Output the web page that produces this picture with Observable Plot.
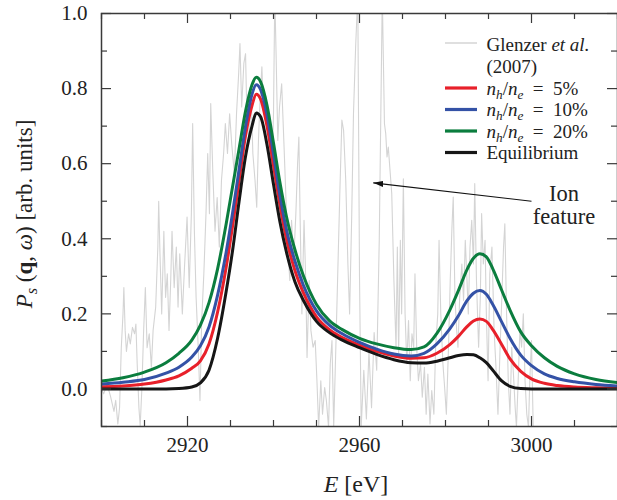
<!DOCTYPE html>
<html><head><meta charset="utf-8">
<style>body{margin:0;background:#fff;} svg{display:block}</style>
<script src="https://cdn.jsdelivr.net/npm/d3@7"></script>
<script src="https://cdn.jsdelivr.net/npm/@observablehq/plot@0.6"></script>
</head><body>
<div id="chart"></div>
<script>
// ---- model curves (energy in eV, signal in arb. units) ----
const energy = [2900, 2905, 2910, 2915, 2918, 2921, 2923, 2925, 2927, 2929, 2930.5, 2932, 2933.5, 2935, 2936, 2937, 2938.5, 2940, 2941.5, 2943, 2945, 2947, 2950, 2953, 2956, 2960, 2964, 2968, 2972, 2975, 2978, 2981, 2983, 2985, 2986.5, 2988, 2989.5, 2991, 2993, 2995, 2997.5, 3000, 3003, 3006, 3010, 3015, 3020];
const equilibrium = [0, 0, 0, 0, 0.001, 0.005, 0.016, 0.05, 0.135, 0.26, 0.37, 0.50, 0.62, 0.70, 0.735, 0.725, 0.65, 0.545, 0.445, 0.365, 0.285, 0.235, 0.18, 0.15, 0.13, 0.11, 0.092, 0.078, 0.07, 0.069, 0.074, 0.083, 0.089, 0.092, 0.091, 0.083, 0.07, 0.05, 0.022, 0.007, 0.001, 0, 0, 0, 0, 0, 0];
const frac5 = [0.006, 0.008, 0.013, 0.024, 0.035, 0.055, 0.075, 0.12, 0.205, 0.325, 0.435, 0.555, 0.675, 0.755, 0.785, 0.772, 0.70, 0.595, 0.49, 0.40, 0.315, 0.255, 0.192, 0.158, 0.137, 0.117, 0.100, 0.088, 0.082, 0.083, 0.095, 0.118, 0.14, 0.166, 0.181, 0.186, 0.18, 0.158, 0.12, 0.08, 0.047, 0.027, 0.015, 0.009, 0.005, 0.003, 0.002];
const frac10 = [0.013, 0.018, 0.025, 0.042, 0.058, 0.085, 0.115, 0.165, 0.25, 0.365, 0.47, 0.585, 0.70, 0.785, 0.81, 0.797, 0.73, 0.625, 0.515, 0.425, 0.34, 0.275, 0.208, 0.17, 0.147, 0.124, 0.106, 0.093, 0.088, 0.095, 0.12, 0.16, 0.195, 0.235, 0.255, 0.262, 0.252, 0.225, 0.18, 0.135, 0.09, 0.062, 0.04, 0.028, 0.019, 0.012, 0.008];
const frac20 = [0.021, 0.03, 0.045, 0.07, 0.095, 0.13, 0.17, 0.23, 0.32, 0.44, 0.54, 0.64, 0.74, 0.81, 0.83, 0.818, 0.755, 0.655, 0.55, 0.46, 0.37, 0.30, 0.225, 0.182, 0.158, 0.135, 0.12, 0.11, 0.105, 0.112, 0.148, 0.21, 0.262, 0.318, 0.348, 0.36, 0.352, 0.32, 0.265, 0.21, 0.152, 0.115, 0.083, 0.06, 0.04, 0.025, 0.017];

// ---- experimental data (Glenzer et al. 2007) ----
const expEnergy = [2900.0,2900.5,2901.3,2902.1,2902.9,2903.3,2903.8,2904.2,2904.6,2905.0,2905.2,2905.5,2905.8,2906.3,2906.7,2907.2,2907.7,2908.0,2908.3,2908.7,2909.0,2909.4,2909.8,2910.2,2910.6,2911.1,2911.6,2912.0,2912.6,2913.1,2913.3,2913.6,2914.0,2914.5,2914.9,2915.3,2915.7,2916.1,2916.4,2916.9,2917.4,2917.8,2918.2,2918.8,2919.3,2919.9,2920.4,2920.9,2921.2,2921.6,2922.0,2922.5,2922.9,2923.3,2923.8,2924.3,2924.7,2925.1,2925.4,2925.9,2926.4,2926.9,2927.4,2927.9,2928.4,2928.8,2929.3,2929.8,2930.3,2930.9,2931.4,2931.9,2932.2,2932.6,2933.1,2933.5,2933.8,2934.3,2934.8,2935.2,2935.7,2936.1,2936.5,2936.9,2937.3,2937.7,2938.2,2938.6,2939.1,2939.6,2940.0,2940.3,2940.6,2941.0,2941.4,2941.9,2942.4,2942.8,2943.3,2943.8,2944.2,2944.7,2945.2,2945.6,2945.9,2946.2,2946.6,2947.1,2947.5,2947.8,2948.3,2948.7,2949.2,2949.7,2950.1,2950.5,2951.0,2951.4,2951.9,2952.3,2952.8,2953.2,2953.6,2954.0,2954.5,2954.9,2955.4,2955.9,2956.3,2956.8,2957.3,2957.7,2958.2,2958.6,2959.1,2959.6,2960.0,2960.4,2961.0,2961.6,2962.2,2962.8,2963.4,2964.0,2964.6,2965.3,2965.8,2966.1,2966.4,2966.7,2967.1,2967.5,2968.0,2968.5,2968.8,2969.1,2969.5,2969.8,2970.2,2970.6,2971.0,2971.4,2971.8,2972.2,2972.6,2972.9,2973.3,2973.7,2974.2,2974.6,2975.1,2975.5,2975.9,2976.4,2976.8,2977.3,2977.7,2978.2,2978.5,2978.9,2979.4,2979.8,2980.2,2980.7,2981.1,2981.5,2981.8,2982.2,2982.6,2982.9,2983.3,2983.8,2984.2,2984.6,2985.0,2985.3,2985.7,2986.1,2986.5,2986.8,2987.2,2987.7,2988.1,2988.4,2988.8,2989.2,2989.5,2989.9,2990.3,2990.8,2991.3,2991.7,2992.2,2992.7,2993.1,2993.5,2993.8,2994.2,2994.6,2995.0,2995.4,2995.8,2996.2,2996.5,2996.9,2997.3,2997.7,2998.1,2998.5,2998.9,2999.3,2999.6,3000.0,3000.4];
const expSignal = [0.0,-0.013,0.013,-0.02,-0.06,-0.03,-0.093,-0.05,0.11,0.20,0.27,0.156,0.10,0.147,0.12,0.164,0.147,0.173,0.067,-0.05,-0.098,0.004,0.156,0.27,0.11,0.147,0.058,0.156,0.218,0.378,0.50,0.36,0.20,0.42,0.244,0.307,0.156,0.29,0.42,0.27,0.378,0.218,0.36,0.20,0.324,0.458,0.27,0.467,0.707,0.42,0.244,0.11,-0.031,0.182,0.307,0.467,0.627,0.467,0.76,0.573,0.42,0.51,0.378,0.556,0.627,0.707,0.627,0.733,0.65,0.573,0.733,0.84,0.92,0.751,0.867,0.893,0.733,0.662,0.778,0.627,0.556,0.484,0.662,0.778,0.858,0.733,0.778,0.689,0.733,0.573,0.733,1.05,0.893,0.662,0.751,0.813,0.662,0.538,0.378,0.289,0.449,0.342,0.467,0.60,0.671,0.449,0.20,0.449,0.289,0.084,0.289,0.156,0.111,0.129,0.022,-0.102,0.022,-0.067,0.004,-0.031,-0.102,0.067,0.129,-0.102,0.111,0.289,0.511,0.716,0.689,0.556,0.333,0.20,0.467,0.733,0.911,1.05,0.3,-0.1,0.05,-0.08,0.1,-0.05,0.15,0.05,0.4,1.05,0.707,0.68,0.618,0.644,0.582,0.52,0.289,0.111,0.378,0.093,0.396,0.20,0.56,0.20,0.067,0.182,0.022,0.147,0.111,0.307,0.111,0.022,0.067,-0.022,0.058,-0.067,0.04,-0.093,-0.004,-0.067,0.111,0.2,0.396,0.2,0.067,0.004,-0.067,0.111,0.289,0.431,0.511,0.244,0.156,0.111,0.244,0.333,0.236,0.396,0.289,0.2,0.378,0.449,0.333,0.547,0.289,0.111,0.244,0.467,0.333,0.396,0.2,0.022,0.307,0.378,0.156,0.067,-0.067,0.111,0.244,0.378,0.44,0.2,0.022,-0.067,0.111,0.04,-0.049,-0.102,0.022,0.156,0.111,0.2,0.022,-0.067,-0.102,0.022,0.129,-0.102];

// ---- ticks ----
const xMajorTicks = [2920, 2960, 3000];
const xMinorTicks = [2900, 2910, 2930, 2940, 2950, 2970, 2980, 2990, 3010, 3020];
const yMajorTicks = [0, 0.2, 0.4, 0.6, 0.8, 1.0];
const yMinorTicks = [-0.1, 0.1, 0.3, 0.5, 0.7, 0.9];

// ---- series ----
const seriesKeys = ["frac5", "frac10", "frac20", "equilibrium"];
const seriesValues = {frac5, frac10, frac20, equilibrium};
const seriesColors = {frac5: "#e8202a", frac10: "#3452a6", frac20: "#0b7d3e", equilibrium: "#161616"};
const seriesPercent = {frac5: "5%", frac10: "10%", frac20: "20%"};
const expColor = "#d4d4d4";

// ---- annotation arrow (data coordinates) ----
const annotation = [{x1: 3000.0, y1: 0.50, x2: 2963.2, y2: 0.549}];
const annotationText = ["Ion", "feature"];

const FONT = "Liberation Serif, Noto Serif, Times New Roman, Tinos, serif";
const W = 617, H = 500, mL = 101, mR = 0, mT = 13, mB = 74;
const fw = W - mL - mR, fh = H - mT - mB;

const expRows = expEnergy.map((e, i) => ({E: e, v: expSignal[i]}));
const modelRows = seriesKeys.flatMap(k => energy.map((e, i) => ({E: e, v: seriesValues[k][i], s: k})));

const frameStroke = "#3a3a3a";
const svg = Plot.plot({
  width: W, height: H,
  marginLeft: mL, marginRight: mR, marginTop: mT, marginBottom: mB,
  x: {domain: [2900, 3020]},
  y: {domain: [-0.1, 1.0]},
  style: {fontFamily: FONT},
  marks: [
    Plot.line(expRows, {x: "E", y: "v", stroke: expColor, strokeWidth: 1.1, clip: true}),
    ...seriesKeys.map(k => Plot.line(modelRows.filter(d => d.s === k),
      {x: "E", y: "v", stroke: seriesColors[k], strokeWidth: 3, curve: "monotone-x", clip: true})),
    Plot.link(annotation, {x1: "x1", y1: "y1", x2: "x2", y2: "y2", stroke: "#111", strokeWidth: 1.1}),
    Plot.tickX(xMajorTicks, {x: d => d, stroke: frameStroke, strokeWidth: 1.2, insetTop: fh - 10}),
    Plot.tickX(xMinorTicks, {x: d => d, stroke: frameStroke, strokeWidth: 1.2, insetTop: fh - 6}),
    Plot.tickX(xMajorTicks, {x: d => d, stroke: frameStroke, strokeWidth: 1.2, insetBottom: fh - 10}),
    Plot.tickX(xMinorTicks, {x: d => d, stroke: frameStroke, strokeWidth: 1.2, insetBottom: fh - 6}),
    Plot.tickY(yMajorTicks, {y: d => d, stroke: frameStroke, strokeWidth: 1.2, insetRight: fw - 10}),
    Plot.tickY(yMinorTicks, {y: d => d, stroke: frameStroke, strokeWidth: 1.2, insetRight: fw - 6}),
    Plot.tickY(yMajorTicks, {y: d => d, stroke: frameStroke, strokeWidth: 1.2, insetLeft: fw - 10}),
    Plot.tickY(yMinorTicks, {y: d => d, stroke: frameStroke, strokeWidth: 1.2, insetLeft: fw - 6}),
    Plot.axisX(xMajorTicks, {anchor: "bottom", tickSize: 0, tickPadding: 11, label: null, tickFormat: d => String(d), fontSize: 21}),
    Plot.axisY(yMajorTicks, {anchor: "left", tickSize: 0, tickPadding: 14, label: null, tickFormat: d3.format(".1f"), fontSize: 21}),
    Plot.frame({stroke: frameStroke, strokeWidth: 1.5})
  ]
});
document.getElementById("chart").appendChild(svg);

const root = d3.select(svg);
root.attr("font-family", FONT);

const defs = root.append("defs");
defs.append("marker").attr("id", "ahead").attr("viewBox", "0 0 10 6")
  .attr("refX", 10).attr("refY", 3).attr("markerWidth", 10).attr("markerHeight", 6)
  .attr("markerUnits", "userSpaceOnUse").attr("orient", "auto")
  .append("path").attr("d", "M0,0L10,3L0,6Z").attr("fill", "#111");
root.selectAll("g[aria-label='link'] path").attr("marker-end", "url(#ahead)");

function rich(x, y, parts, opts) {
  const size = opts.size;
  const t = root.append("text").attr("x", x).attr("y", y)
    .attr("font-family", FONT).attr("font-size", size).attr("fill", "#222")
    .attr("text-anchor", opts.anchor || "start");
  if (opts.rotate) t.attr("transform", `rotate(-90 ${x} ${y})`);
  let shift = 0;
  for (const p of parts) {
    const s = t.append("tspan").text(p.t);
    if (p.i) s.attr("font-style", "italic");
    if (p.b) s.attr("font-weight", "bold");
    const target = p.sub ? size * 0.22 : 0;
    if (target !== shift) { s.attr("dy", target - shift); shift = target; }
    if (p.sub) s.attr("font-size", size * 0.7);
  }
  return t;
}

rich(356, 492, [{t: "E", i: true}, {t: "\u00a0[eV]"}], {size: 24, anchor: "middle"});
rich(32, 214, [{t: "P", i: true}, {t: "s", i: true, sub: true}, {t: "\u00a0("}, {t: "q", b: true},
  {t: ",\u00a0"}, {t: "ω", i: true}, {t: ")\u00a0[arb.\u00a0units]"}], {size: 23, anchor: "middle", rotate: true});

const legendX0 = 445, legendX1 = 477, legendTextX = 486.5;
root.append("line").attr("x1", legendX0).attr("x2", legendX1).attr("y1", 43).attr("y2", 43)
  .attr("stroke", expColor).attr("stroke-width", 1.5);
rich(legendTextX, 51, [{t: "Glenzer\u00a0"}, {t: "et\u00a0al.", i: true}], {size: 19});
rich(legendTextX, 73, [{t: "(2007)"}], {size: 19});
const legendRowsY = [88, 109.5, 131, 152.5];
seriesKeys.forEach((k, j) => {
  const y = legendRowsY[j];
  root.append("line").attr("x1", legendX0).attr("x2", legendX1).attr("y1", y).attr("y2", y)
    .attr("stroke", seriesColors[k]).attr("stroke-width", 3.2);
  if (k === "equilibrium") {
    rich(legendTextX, y + 6.5, [{t: "Equilibrium"}], {size: 19});
  } else {
    rich(legendTextX, y + 6.5, [{t: "n", i: true}, {t: "h", i: true, sub: true}, {t: "/"},
      {t: "n", i: true}, {t: "e", i: true, sub: true}, {t: "\u2002=\u2002" + seriesPercent[k]}], {size: 19});
  }
});

rich(564, 201, [{t: annotationText[0]}], {size: 22.5, anchor: "middle"});
rich(564, 224, [{t: annotationText[1]}], {size: 22.5, anchor: "middle"});

root.selectAll("text, tspan").each(function() {
  this.style.setProperty("font-family", FONT, "important");
  this.setAttribute("fill", "#222");
});
</script>
</body></html>
